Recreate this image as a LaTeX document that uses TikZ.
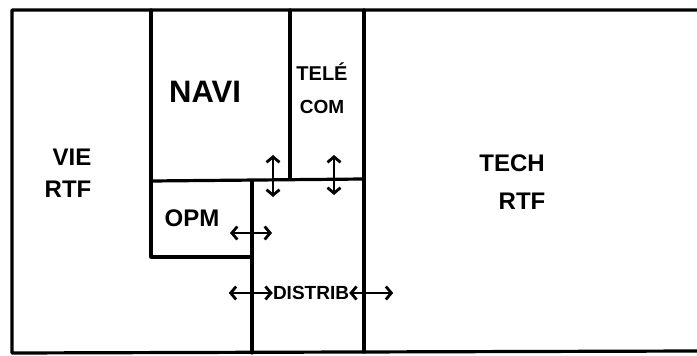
\documentclass[tikz,border=0pt]{standalone}
\usepackage{fontspec}
\setmainfont{Liberation Sans}
\usetikzlibrary{arrows.meta}

\tikzset{
    wall/.style={line width=3.2pt, line cap=round, line join=round},
    door/.style={line width=2.8pt, {Straight Barb[length=5.5pt,width=13pt]}-{Straight Barb[length=5.5pt,width=13pt]}},
    room/.style={inner sep=0pt, font=\bfseries\fontsize{24}{26}\selectfont},
    bigroom/.style={room, font=\bfseries\fontsize{31}{33}\selectfont},
    smallroom/.style={room, font=\bfseries\fontsize{19}{21}\selectfont},
}

\begin{document}
\begin{tikzpicture}[x=1pt,y=-1pt]
    \useasboundingbox (0,0) rectangle (697,356);
    % Outer walls
    \draw[wall] (697,10) -- (12,10) -- (12,353) -- (697,351);
    % Inner walls
    \draw[wall] (151,10) -- (151,257) -- (252,257);
    \draw[wall] (151,181) -- (364,179);
    \draw[wall] (290,10) -- (290,179);
    \draw[wall] (364,10) -- (364,352);
    \draw[wall] (252,181) -- (252,353);
    % Room labels
    \node[room] (vie) at (72,157) {VIE};
    \node[room] (vieRtf) at (68,189) {RTF};
    \node[bigroom] (navi) at (205,92) {NAVI};
    \node[smallroom, font=\bfseries\fontsize{20}{22}\selectfont] (tele) at (322,72) {TELÉ};
    \node[smallroom] (com) at (322,107) {COM};
    \node[room] (tech) at (512,163) {TECH};
    \node[room] (techRtf) at (522,201) {RTF};
    \node[room] (opm) at (192,218) {OPM};
    \node[smallroom] (distrib) at (311,293) {DISTRIB};
    % Doors
    \coordinate (naviA) at (273,155); \coordinate (naviB) at (273,197);
    \coordinate (teleA) at (334,155); \coordinate (teleB) at (334,195);
    \coordinate (opmA) at (230,233); \coordinate (opmB) at (272,233);
    \draw[door] (naviA) -- (naviB);
    \draw[door] (teleA) -- (teleB);
    \draw[door] (opmA) -- (opmB);
    \draw[door] ([xshift=-44pt]distrib.west) -- (distrib.west);
    \draw[door] (distrib.east) -- ([xshift=44pt]distrib.east);
\end{tikzpicture}
\end{document}
